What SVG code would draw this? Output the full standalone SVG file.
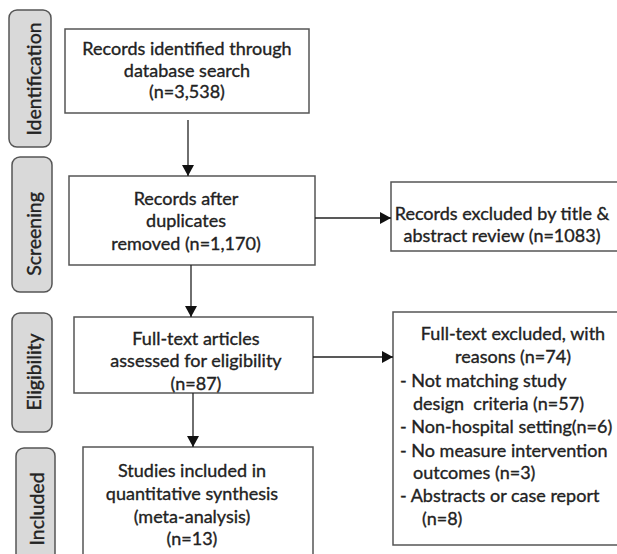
<svg xmlns="http://www.w3.org/2000/svg" width="617" height="554" viewBox="0 0 617 554">
<defs>
<marker id="ah" viewBox="0 0 10 10" refX="10" refY="5" markerWidth="11" markerHeight="12" markerUnits="userSpaceOnUse" orient="auto" preserveAspectRatio="none">
<path d="M0,0 L10,5 L0,10 Z" fill="#111"/>
</marker>
<style>
.box{fill:#fff;stroke:#555;stroke-width:1.5}
.lab{fill:#d9d9d9;stroke:#555;stroke-width:1.5}
.t{font-family:Lato,"Open Sans",sans-serif;font-size:18px;fill:#222;stroke:#222;stroke-width:0.35}
.s{font-size:19.5px}
.c{text-anchor:middle}
.conn{stroke:#222;stroke-width:1.3;fill:none;marker-end:url(#ah)}
</style>
</defs>
<rect width="617" height="554" fill="#fff"/>
<g id="label-identification"><rect class="lab" x="9" y="10" width="42" height="137" rx="8"/><text class="t s c" transform="translate(33,79) rotate(-90)" y="8">Identification</text></g>
<g id="label-screening"><rect class="lab" x="12" y="157" width="40" height="135" rx="8"/><text class="t s c" transform="translate(33,234) rotate(-90)" y="8">Screening</text></g>
<g id="label-eligibility"><rect class="lab" x="12" y="313" width="40" height="119" rx="8"/><text class="t s c" transform="translate(33,372) rotate(-90)" y="8">Eligibility</text></g>
<g id="label-included"><rect class="lab" x="16" y="448" width="39" height="130" rx="8"/><text class="t s c" transform="translate(36,509) rotate(-90)" y="8">Included</text></g>
<g id="n1"><rect class="box" x="65" y="29" width="244" height="84"/><text class="t c" x="187" y="55">Records identified through</text><text class="t c" x="187" y="77">database search</text><text class="t c" x="187" y="98">(n=3,538)</text></g>
<g id="n2"><rect class="box" x="69" y="176" width="246" height="89"/><text class="t c" x="186" y="205">Records after</text><text class="t c" x="186" y="227">duplicates</text><text class="t c" x="186" y="250">removed (n=1,170)</text></g>
<g id="n3"><rect class="box" x="74" y="317" width="239" height="76"/><text class="t c" x="196" y="345">Full-text articles</text><text class="t c" x="196" y="367">assessed for eligibility</text><text class="t c" x="196" y="390">(n=87)</text></g>
<g id="n4"><rect class="box" x="83" y="447" width="230" height="130"/><text class="t c" x="192" y="477">Studies included in</text><text class="t c" x="192" y="500">quantitative synthesis</text><text class="t c" x="192" y="523">(meta-analysis)</text><text class="t c" x="192" y="545">(n=13)</text></g>
<g id="n5"><rect class="box" x="391" y="182" width="230" height="69"/><text class="t c" x="502" y="220">Records excluded by title &amp;</text><text class="t c" x="502" y="242">abstract review (n=1083)</text></g>
<g id="n6"><rect class="box" x="393" y="312" width="230" height="233"/><text class="t c" x="513" y="340">Full-text excluded, with</text><text class="t c" x="513" y="363">reasons (n=74)</text><text class="t" x="400" y="387">- Not matching study</text><text class="t" x="413" y="410" xml:space="preserve">design  criteria (n=57)</text><text class="t" x="400" y="433">- Non-hospital setting(n=6)</text><text class="t" x="400" y="457">- No measure intervention</text><text class="t" x="413" y="479">outcomes (n=3)</text><text class="t" x="400" y="502">- Abstracts or case report</text><text class="t" x="422" y="525">(n=8)</text></g>
<g id="connectors">
<path class="conn" d="M188,120 L188,176"/>
<path class="conn" d="M191,265 L191,317"/>
<path class="conn" d="M193,393 L193,447"/>
<path class="conn" d="M315,218 L391,218"/>
<path class="conn" d="M313,357 L393,357"/>
</g>
</svg>
